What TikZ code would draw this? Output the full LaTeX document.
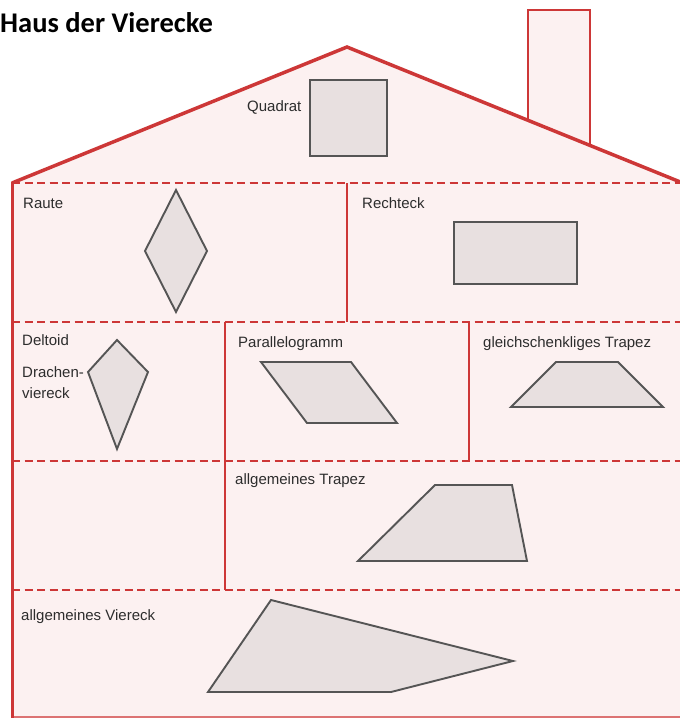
\documentclass[tikz,border=0pt]{standalone}
\usepackage{fontspec}
\setmainfont{Liberation Sans}
\newfontfamily\titlefont{Carlito}
\definecolor{housered}{RGB}{205,55,55}
\definecolor{housefill}{RGB}{252,241,241}
\definecolor{shapefill}{RGB}{232,224,224}
\definecolor{shapeline}{RGB}{85,85,85}
\definecolor{labelgray}{RGB}{45,45,45}
\tikzset{
  wall/.style={draw=housered, line width=3pt},
  roofline/.style={draw=housered, line width=3.5pt, line join=miter},
  floorline/.style={draw=housered, line width=2.7pt, dash pattern=on 8pt off 4.5pt},
  figshape/.style={draw=shapeline, fill=shapefill, line width=1.9pt, line join=miter},
  lbl/.style={anchor=base west, inner sep=0pt, text=labelgray, font=\fontsize{15}{18}\selectfont},
}
\begin{document}
\begin{tikzpicture}[x=1pt,y=-1pt]
\useasboundingbox (0,0) rectangle (680,718);
\fill[white] (0,0) rectangle (680,718);
% chimney
\filldraw[fill=housefill, draw=housered, line width=2.2pt] (528,121) -- (528,10) -- (590,10) -- (590,146);
% house body
\fill[housefill] (12,182) -- (347,47) -- (684,183.5) -- (684,718) -- (12,718) -- cycle;
\draw[housered!70, line width=1.5pt] (12,717) -- (680,717);
\draw[roofline] (12,183) -- (347,47) -- (684,183.5);
\draw[wall] (12,182) -- (12,718);
% floors
\draw[floorline] (12,183) -- (680,183);
\draw[floorline] (12,322) -- (680,322);
\draw[floorline] (12,461) -- (680,461);
\draw[floorline] (12,590) -- (680,590);
% room walls
\draw[wall, line width=2.4pt] (347,183) -- (347,322);
\draw[wall, line width=2.4pt] (225,322) -- (225,590);
\draw[wall, line width=2.4pt] (469,322) -- (469,461);
% title
\node[anchor=base west, inner sep=0pt, font=\titlefont\bfseries\fontsize{28.5}{32}\selectfont] (title) at (0,32) {Haus der Vierecke};
% shapes
\draw[figshape] (310,80) rectangle (387,156);
\draw[figshape] (176,190) -- (207,251) -- (176,312) -- (145,251) -- cycle;
\draw[figshape] (454,222) rectangle (577,284);
\draw[figshape] (117,340) -- (148,372) -- (117,449) -- (88,372) -- cycle;
\draw[figshape] (261,362) -- (351,362) -- (397,423) -- (307,423) -- cycle;
\draw[figshape] (511,407) -- (556,362) -- (618,362) -- (663,407) -- cycle;
\draw[figshape] (358,561) -- (435,485) -- (512,485) -- (527,561) -- cycle;
\draw[figshape] (271,600) -- (513,661) -- (391,692) -- (208,692) -- cycle;
% labels
\node[lbl] (lquadrat) at (247,111) {Quadrat};
\node[lbl] (lraute) at (23,208.5) {Raute};
\node[lbl] (lrechteck) at (362,208.5) {Rechteck};
\node[lbl] (ldeltoid) at (22,345.5) {Deltoid};
\node[lbl] (ldrachen) at (22,377.5) {Drachen-};
\node[lbl] (lviereck) at (22,398.5) {viereck};
\node[lbl] (lparallel) at (238,347.5) {Parallelogramm};
\node[lbl] (lgleich) at (483,347.5) {gleichschenkliges Trapez};
\node[lbl] (latrapez) at (235,484.5) {allgemeines Trapez};
\node[lbl] (laviereck) at (21,620.5) {allgemeines Viereck};
\end{tikzpicture}
\end{document}
